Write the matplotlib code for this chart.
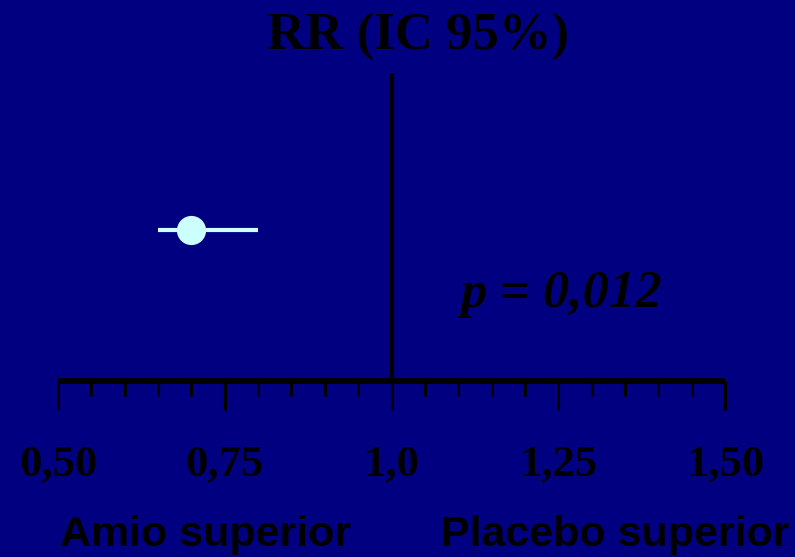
import matplotlib.pyplot as plt
from matplotlib.ticker import MultipleLocator, FixedLocator, FixedFormatter

# data
rr = [0.70]
ci_low = [0.65]
ci_high = [0.80]
row = [0.49]
tick_vals = [0.50, 0.75, 1.0, 1.25, 1.50]
tick_text = ["0,50", "0,75", "1,0", "1,25", "1,50"]
p_text = "p = 0,012"

bg = "#000080"
pt_col = "#ccffff"

fig = plt.figure(figsize=(7.95, 5.57), dpi=100, facecolor=bg)
ax = fig.add_axes([58 / 795, 1 - 381 / 557, (725 - 58) / 795, (381 - 73) / 557])
ax.set_facecolor(bg)
ax.set_xlim(0.5, 1.5)
ax.set_ylim(0, 1)

for s in ["top", "left", "right"]:
    ax.spines[s].set_visible(False)
ax.spines["bottom"].set_linewidth(4.2)
ax.spines["bottom"].set_color("black")
ax.spines["bottom"].set_capstyle("butt")

ax.xaxis.set_major_locator(FixedLocator(tick_vals))
ax.xaxis.set_major_formatter(FixedFormatter(tick_text))
ax.xaxis.set_minor_locator(MultipleLocator(0.05))
ax.tick_params(axis="x", which="major", direction="out", length=21, width=2.2,
               color="black", pad=25, labelsize=32)
ax.tick_params(axis="x", which="minor", direction="out", length=11, width=2.2,
               color="black")
ax.set_yticks([])
for lab in ax.get_xticklabels():
    lab.set_family("Liberation Serif")
    lab.set_weight("bold")
    lab.set_color("black")

# line of no effect
ax.axvline(1.0, ymin=0, ymax=1, color="black", lw=3)

# point estimate with CI
ax.hlines(row, ci_low, ci_high, color=pt_col, lw=3)
ax.plot(rr, row, "o", color=pt_col, ms=20, zorder=3)

fig.text(418 / 795, 1 - 37 / 557, "RR (IC 95%)", ha="center", va="center",
         family="Liberation Serif", weight="bold", fontsize=38, color="black")
fig.text(562 / 795, 1 - 294 / 557, p_text, ha="center", va="center",
         family="Liberation Serif", weight="bold", style="italic", fontsize=38,
         color="black")
fig.text(206 / 795, 1 - 535 / 557, "Amio superior", ha="center", va="center",
         family="Liberation Sans", weight="bold", fontsize=31, color="black")
fig.text(615 / 795, 1 - 535 / 557, "Placebo superior", ha="center", va="center",
         family="Liberation Sans", weight="bold", fontsize=31, color="black")

fig.savefig("out.png", dpi=100, facecolor=bg)
